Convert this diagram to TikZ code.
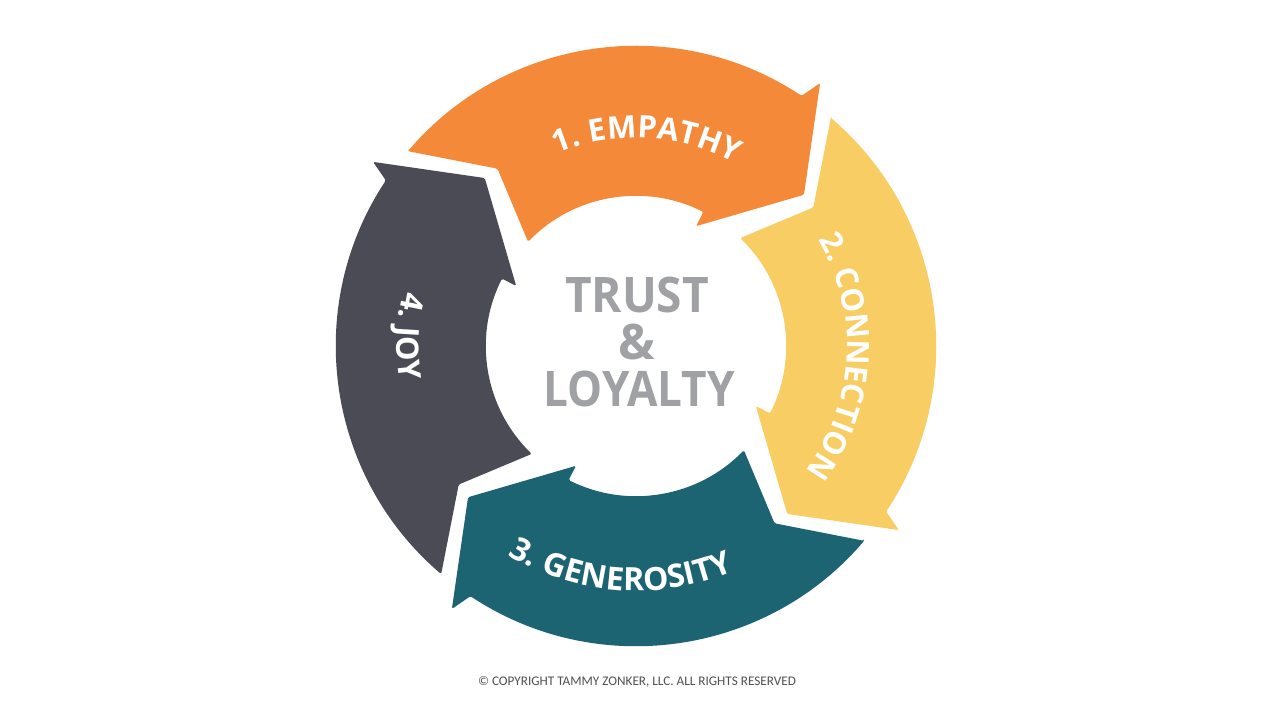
\documentclass[tikz,border=0pt]{standalone}
\usepackage{fontspec}
\usetikzlibrary{decorations.text}
\newfontfamily\labelfont[LetterSpace=3]{Open Sans}
\newfontfamily\centerfont{Open Sans}
\newfontfamily\copyfont{Carlito}
\definecolor{corange}{HTML}{F5893A}
\definecolor{cyellow}{HTML}{F8CD63}
\definecolor{cteal}{HTML}{1C6472}
\definecolor{cgray}{HTML}{4B4B55}
\definecolor{ctext}{HTML}{A0A1A4}
\definecolor{ccopy}{HTML}{505050}
\newcommand\lbl{\labelfont\bfseries\fontsize{31}{33}\selectfont\color{white}}
\newcommand\lblbig{\labelfont\bfseries\fontsize{32}{34}\selectfont\color{white}}
\newcommand\cyclearrow[2]{%
  \fill[#2, rounded corners=1.5pt] ({139.5+#1}:300pt) -- ({128+#1}:225pt) -- ({136+#1}:150pt)
    arc[start angle={136+#1}, end angle={63.3+#1}, radius=150pt]
    -- ({63.4+#1}:134pt) -- ({42+#1}:226pt) -- ({55+#1}:321pt) -- ({56.5+#1}:300pt)
    arc[start angle={56.5+#1}, end angle={139.5+#1}, radius=300pt] -- cycle;}
\tikzset{
  centertext/.style={anchor=base, text=ctext, inner sep=0pt, font=\centerfont\bfseries\fontsize{49}{49}\selectfont},
  copytext/.style={anchor=base, text=ccopy, inner sep=0pt, font=\copyfont\fontsize{13.2}{14}\selectfont},
  arclabel/.style={decorate, decoration={text along path, text align=center, text={|\lbl|#1}}},
  arclabelbig/.style={decorate, decoration={text along path, text align=center, text={|\lblbig|#1}}}
}
\begin{document}
\begin{tikzpicture}[x=1pt,y=1pt]
\useasboundingbox (0,0) rectangle (1280,720);
\fill[white] (0,0) rectangle (1280,720);
\begin{scope}[shift={(636,374)}]
  \cyclearrow{0}{corange}
  \cyclearrow{-90}{cyellow}
  \cyclearrow{-180}{cteal}
  \cyclearrow{-270}{cgray}
  \path[arclabel={1. EMPATHY}] (147:208pt) arc[start angle=147, end angle=27, radius=208pt];
  \path[arclabel={2. CONNECTION}] (57:211pt) arc[start angle=57, end angle=-63, radius=211pt];
  \path[arclabelbig={3. GENEROSITY}] (206:245pt) arc[start angle=206, end angle=326, radius=245pt];
  \path[arclabel={4. JOY}] (117.5:239pt) arc[start angle=117.5, end angle=237.5, radius=239pt];
\end{scope}
\node[centertext] (trust) at (637,407) {\scalebox{0.94}[1]{TRUST}};
\node[centertext] (amp) at (637,360) {\&};
\node[centertext] (loyalty) at (639,313) {\scalebox{0.9}[1]{LOYALTY}};
\node[copytext] (copy) at (637,34) {© COPYRIGHT TAMMY ZONKER, LLC. ALL RIGHTS RESERVED};
\end{tikzpicture}
\end{document}
